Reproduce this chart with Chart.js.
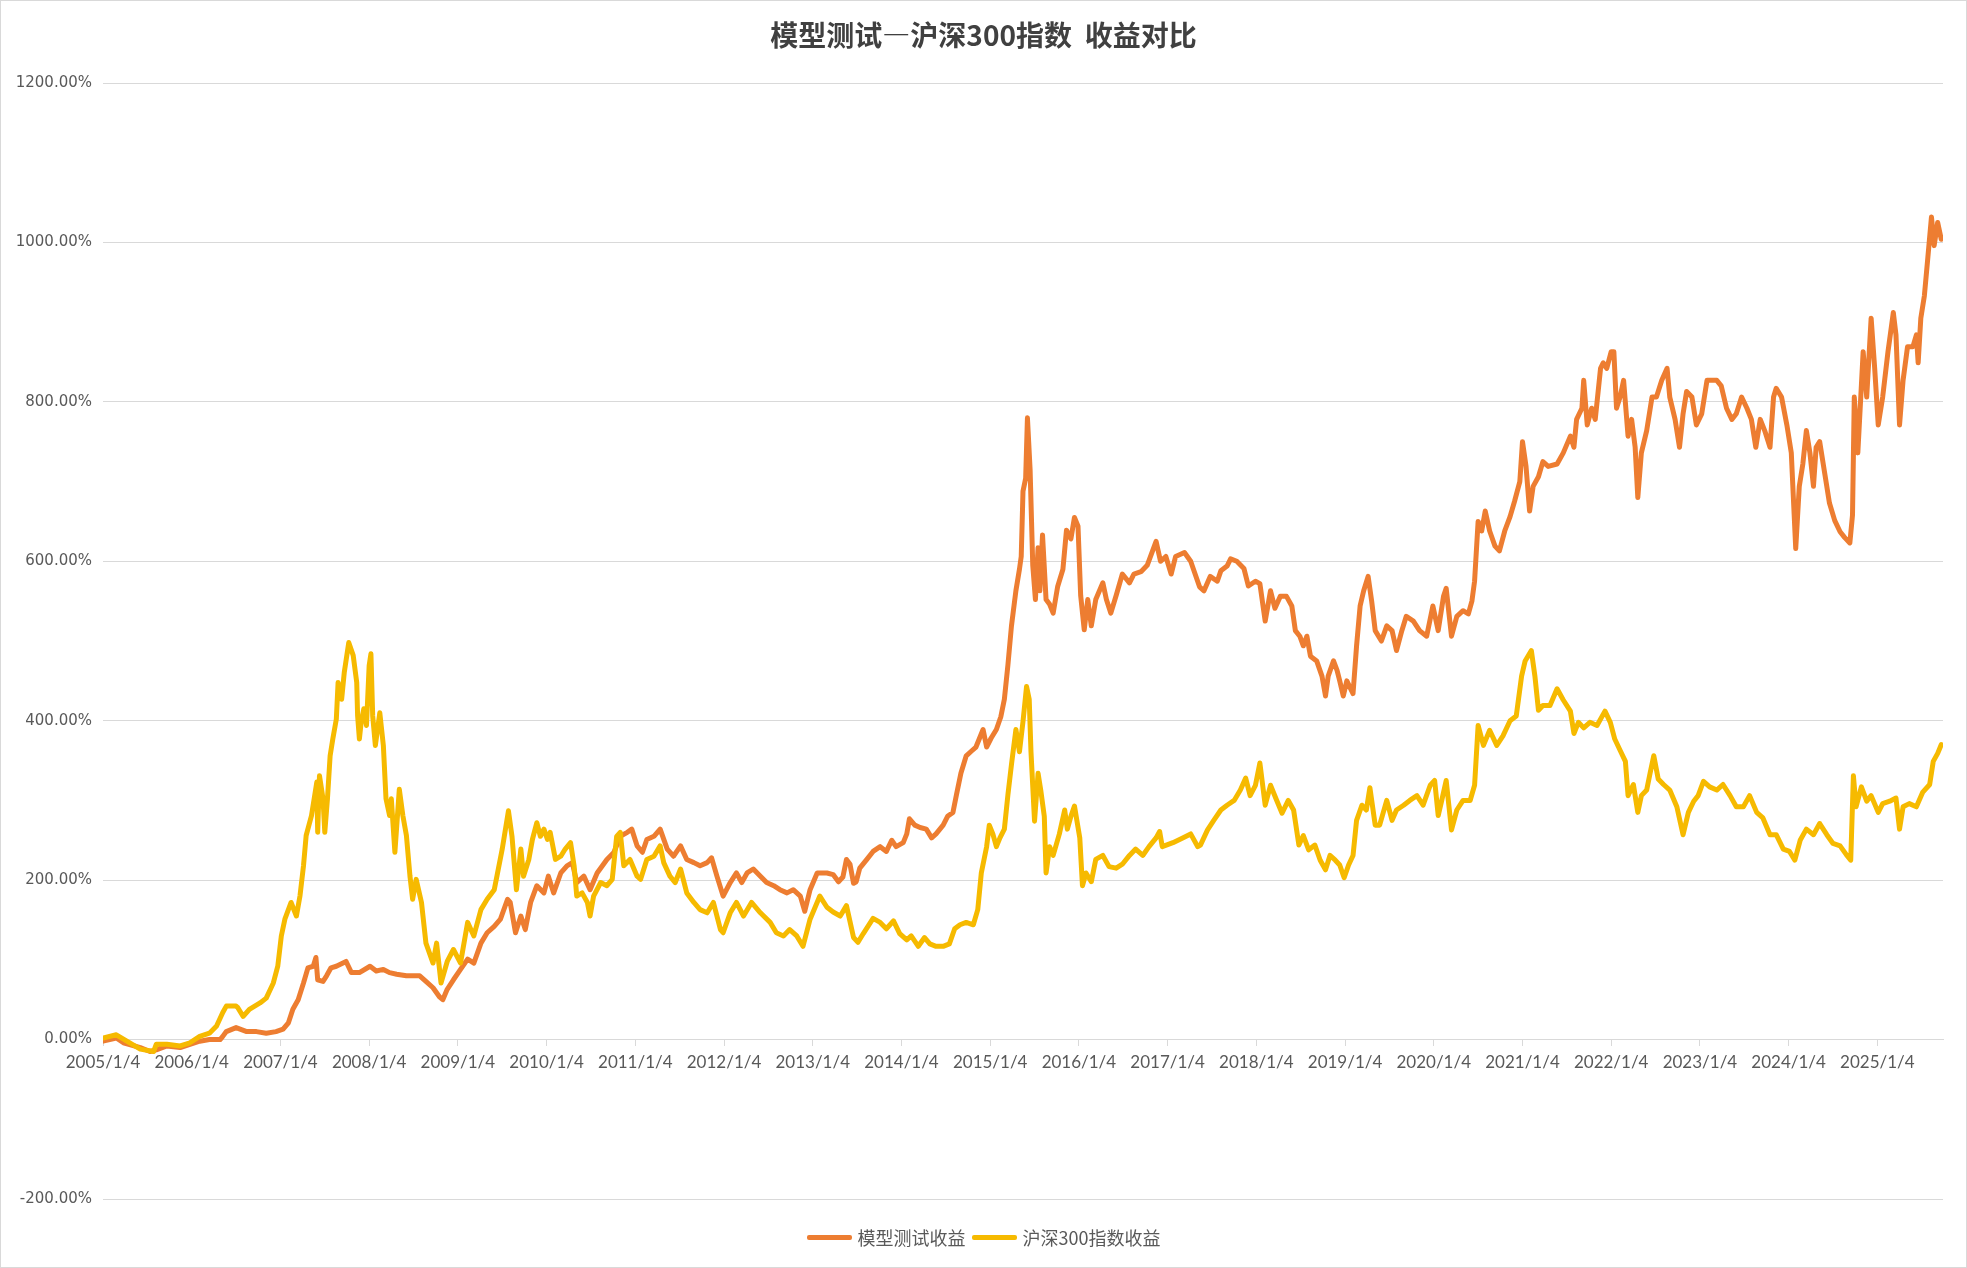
<!DOCTYPE html>
<html lang="zh-CN">
<head>
<meta charset="utf-8">
<title>模型测试—沪深300指数 收益对比</title>
<script src="https://cdn.jsdelivr.net/npm/chart.js@4.4.1/dist/chart.umd.min.js"></script>
<style>
  html, body { margin: 0; padding: 0; background: #fff; }
  #wrap { position: relative; width: 1967px; height: 1268px; overflow: hidden; }
  #frame { position: absolute; left: 0; top: 0; width: 1967px; height: 1268px; box-sizing: border-box; border: 1px solid #d9d9d9; pointer-events: none; }
  #title { position: absolute; left: 0; right: 0; top: 14px; text-align: center; font-family: "Noto Sans CJK SC", sans-serif; font-size: 28px; font-weight: bold; color: #404040; line-height: 40px; white-space: pre; }
  #legend { position: absolute; left: 0; right: 0; top: 1225px; display: flex; justify-content: center; align-items: center; font-family: "Noto Sans CJK SC", sans-serif; font-size: 18px; color: #595959; line-height: 24px; }
  .item { display: flex; align-items: center; margin: 0 3px; }
  .swatch { display: inline-block; width: 45px; height: 5px; border-radius: 2px; margin-right: 6px; }
</style>
</head>
<body>
<div id="wrap">
  <canvas id="chart" width="1967" height="1268"></canvas>
  <div id="title">模型测试—沪深300指数  收益对比</div>
  <div id="legend"></div>
  <div id="frame"></div>
</div>
<script>
// series names
const seriesNames = ['模型测试收益', '沪深300指数收益'];
const seriesColors = ['#ED7D31', '#F6BA00'];

// x ticks (one per year, first trading day)
const tickYears = [2005, 2006, 2007, 2008, 2009, 2010, 2011, 2012, 2013, 2014, 2015,
  2016, 2017, 2018, 2019, 2020, 2021, 2022, 2023, 2024, 2025];
const tickLabels = ['2005/1/4', '2006/1/4', '2007/1/4', '2008/1/4', '2009/1/4', '2010/1/4',
  '2011/1/4', '2012/1/4', '2013/1/4', '2014/1/4', '2015/1/4', '2016/1/4', '2017/1/4',
  '2018/1/4', '2019/1/4', '2020/1/4', '2021/1/4', '2022/1/4', '2023/1/4', '2024/1/4', '2025/1/4'];

// 模型测试收益 (%), dates as decimal years
const modelYears = [
  2005.00, 2005.15, 2005.23, 2005.42, 2005.53, 2005.60, 2005.72, 2005.87, 2005.98,
  2006.09, 2006.20, 2006.32, 2006.35, 2006.39, 2006.50, 2006.62, 2006.73, 2006.84, 2006.95,
  2007.03, 2007.09, 2007.14, 2007.20, 2007.26, 2007.31, 2007.37, 2007.40, 2007.42, 2007.48, 2007.52, 2007.57, 2007.63, 2007.74, 2007.80, 2007.89,
  2008.01, 2008.08, 2008.16, 2008.23, 2008.31, 2008.42, 2008.57, 2008.64, 2008.72, 2008.79, 2008.83, 2008.88, 2008.95,
  2009.03, 2009.11, 2009.18, 2009.26, 2009.33, 2009.41, 2009.48, 2009.56, 2009.59, 2009.65, 2009.71, 2009.76, 2009.82, 2009.89, 2009.97,
  2010.02, 2010.08, 2010.16, 2010.23, 2010.29, 2010.34, 2010.42, 2010.49, 2010.57, 2010.68, 2010.76, 2010.83, 2010.91, 2010.96,
  2011.02, 2011.08, 2011.13, 2011.21, 2011.28, 2011.36, 2011.43, 2011.51, 2011.58, 2011.66, 2011.73, 2011.81, 2011.86, 2011.92, 2011.99,
  2012.07, 2012.14, 2012.20, 2012.26, 2012.33, 2012.41, 2012.48, 2012.56, 2012.63, 2012.71, 2012.78, 2012.86, 2012.91, 2012.97,
  2013.05, 2013.16, 2013.23, 2013.29, 2013.34, 2013.38, 2013.42, 2013.46, 2013.49, 2013.53, 2013.61, 2013.68, 2013.76, 2013.83, 2013.89, 2013.94,
  2014.02, 2014.06, 2014.09, 2014.15, 2014.21, 2014.28, 2014.34, 2014.39, 2014.47, 2014.52, 2014.58, 2014.62, 2014.67, 2014.73, 2014.79, 2014.84, 2014.92, 2014.96,
  2015.01, 2015.07, 2015.12, 2015.16, 2015.20, 2015.24, 2015.29, 2015.33, 2015.35, 2015.37, 2015.40, 2015.42, 2015.45, 2015.48, 2015.51, 2015.54, 2015.56, 2015.59, 2015.63, 2015.67, 2015.71, 2015.76, 2015.82, 2015.86, 2015.91, 2015.95, 2015.99,
  2016.02, 2016.06, 2016.10, 2016.14, 2016.19, 2016.27, 2016.31, 2016.36, 2016.42, 2016.49, 2016.57, 2016.62, 2016.70, 2016.77, 2016.87, 2016.92, 2016.98,
  2017.04, 2017.09, 2017.19, 2017.26, 2017.36, 2017.41, 2017.48, 2017.56, 2017.60, 2017.67, 2017.71, 2017.78, 2017.86, 2017.91, 2017.99,
  2018.04, 2018.10, 2018.16, 2018.21, 2018.27, 2018.34, 2018.40, 2018.44, 2018.49, 2018.53, 2018.57, 2018.61, 2018.68, 2018.74, 2018.78, 2018.81, 2018.87, 2018.91, 2018.94, 2018.98,
  2019.02, 2019.09, 2019.13, 2019.17, 2019.21, 2019.26, 2019.30, 2019.34, 2019.41, 2019.47, 2019.53, 2019.58, 2019.64, 2019.69, 2019.77, 2019.84, 2019.92, 2019.99,
  2020.05, 2020.11, 2020.14, 2020.20, 2020.26, 2020.33, 2020.39, 2020.43, 2020.46, 2020.50, 2020.54, 2020.58, 2020.63, 2020.69, 2020.74, 2020.80, 2020.86, 2020.91, 2020.97,
  2021.00, 2021.04, 2021.08, 2021.12, 2021.18, 2021.23, 2021.29, 2021.39, 2021.46, 2021.54, 2021.58, 2021.61, 2021.67, 2021.69, 2021.73, 2021.78, 2021.82, 2021.88, 2021.91, 2021.95,
  2022.00, 2022.03, 2022.06, 2022.10, 2022.14, 2022.19, 2022.23, 2022.27, 2022.30, 2022.34, 2022.40, 2022.46, 2022.51, 2022.57, 2022.63, 2022.66, 2022.72, 2022.77, 2022.81, 2022.85, 2022.91, 2022.96,
  2023.02, 2023.08, 2023.13, 2023.19, 2023.24, 2023.30, 2023.36, 2023.41, 2023.47, 2023.53, 2023.58, 2023.63, 2023.68, 2023.73, 2023.79, 2023.83, 2023.86, 2023.92, 2023.98,
  2024.03, 2024.08, 2024.12, 2024.16, 2024.20, 2024.24, 2024.28, 2024.31, 2024.35, 2024.41, 2024.46, 2024.52, 2024.58, 2024.63, 2024.69, 2024.72, 2024.74, 2024.78, 2024.84, 2024.88, 2024.93, 2024.97,
  2025.01, 2025.06, 2025.12, 2025.18, 2025.21, 2025.25, 2025.29, 2025.34, 2025.40, 2025.44, 2025.46, 2025.49, 2025.53, 2025.57, 2025.61, 2025.64, 2025.68, 2025.72
];
const modelValues = [
  -2, 2, -4, -10, -15, -13, -8, -10, -6,
  -2, 0, 0, 4, 10, 15, 10, 10, 8, 10,
  13, 21, 38, 50, 71, 90, 92, 103, 75, 73, 80, 90, 92, 98, 84, 84,
  92, 86, 88, 84, 82, 80, 80, 73, 65, 54, 50, 63, 75,
  88, 101, 96, 121, 134, 142, 151, 176, 172, 134, 155, 138, 172, 193, 184,
  205, 184, 209, 218, 222, 197, 205, 188, 209, 226, 235, 255, 260, 264,
  243, 235, 251, 255, 264, 239, 230, 243, 226, 222, 218, 222, 228, 205, 180,
  197, 209, 197, 209, 214, 205, 197, 193, 188, 184, 188, 180, 161, 188,
  209, 209, 207, 198, 204, 226, 220, 196, 198, 215, 226, 236, 242, 236, 250, 242,
  247, 258, 277, 269, 266, 264, 253, 258, 269, 280, 285, 307, 334, 356, 362, 367, 389, 367,
  378, 389, 405, 427, 470, 519, 563, 590, 606, 688, 704, 780, 715, 595, 552, 617, 563, 633, 552, 546, 535, 568, 590, 639, 628, 655, 644,
  557, 514, 552, 519, 552, 573, 552, 535, 557, 584, 573, 584, 587, 595, 625, 600, 606,
  584, 606, 611, 600, 568, 563, 581, 575, 588, 594, 603, 600, 591, 569, 575,
  572, 525, 563, 541, 556, 556, 544, 513, 506, 494, 506, 481, 475, 456, 431, 456, 475, 463, 450, 431,
  450, 434, 494, 544, 563, 581, 550, 513, 500, 519, 513, 488, 513, 531, 525, 513, 506, 544,
  513, 556, 566, 506, 531, 538, 534, 550, 575, 650, 638, 663, 638, 619, 613, 638, 656, 675, 700,
  750, 719, 663, 694, 706, 725, 719, 722, 736, 757, 743, 778, 792, 827, 771, 792, 778, 842, 849, 842,
  863, 863, 792, 806, 827, 757, 778, 743, 680, 736, 764, 806, 806, 827, 842, 806, 778, 743, 785, 813, 806, 771,
  785, 827, 827, 827, 820, 792, 778, 785, 806, 792, 778, 743, 778, 764, 743, 806, 817, 806, 771,
  736, 616, 694, 722, 764, 736, 694, 743, 750, 708, 673, 651, 637, 630, 623, 658, 806, 736, 863, 806, 905, 842,
  771, 806, 863, 912, 884, 771, 827, 869, 869, 884, 849, 905, 933, 982, 1032, 996, 1025, 1004
];

// 沪深300指数收益 (%), dates as decimal years
const indexYears = [
  2005.00, 2005.15, 2005.42, 2005.57, 2005.60, 2005.72, 2005.87, 2005.98,
  2006.09, 2006.20, 2006.28, 2006.35, 2006.39, 2006.50, 2006.52, 2006.58, 2006.65, 2006.77, 2006.84, 2006.92, 2006.97,
  2007.01, 2007.05, 2007.12, 2007.18, 2007.22, 2007.26, 2007.29, 2007.35, 2007.41, 2007.42, 2007.44, 2007.48, 2007.50, 2007.53, 2007.56, 2007.59, 2007.63, 2007.65, 2007.69, 2007.72, 2007.77, 2007.82, 2007.86, 2007.87, 2007.89, 2007.91, 2007.94, 2007.97,
  2008.00, 2008.02, 2008.04, 2008.07, 2008.12, 2008.16, 2008.19, 2008.23, 2008.25, 2008.29, 2008.34, 2008.38, 2008.42, 2008.46, 2008.49, 2008.53, 2008.59, 2008.64, 2008.72, 2008.76, 2008.81, 2008.88, 2008.95,
  2009.03, 2009.11, 2009.18, 2009.26, 2009.33, 2009.41, 2009.44, 2009.50, 2009.57, 2009.61, 2009.66, 2009.71, 2009.74, 2009.80, 2009.84, 2009.89, 2009.93, 2009.97,
  2010.01, 2010.04, 2010.10, 2010.16, 2010.21, 2010.27, 2010.31, 2010.34, 2010.40, 2010.46, 2010.49, 2010.53, 2010.61, 2010.68, 2010.74, 2010.79, 2010.83, 2010.87, 2010.94,
  2011.02, 2011.06, 2011.13, 2011.21, 2011.28, 2011.32, 2011.39, 2011.45, 2011.51, 2011.58, 2011.66, 2011.73, 2011.81, 2011.88, 2011.96, 2011.99,
  2012.07, 2012.14, 2012.22, 2012.31, 2012.41, 2012.52, 2012.59, 2012.67, 2012.74, 2012.82, 2012.89, 2012.97,
  2013.08, 2013.16, 2013.23, 2013.31, 2013.38, 2013.46, 2013.51, 2013.57, 2013.68, 2013.76, 2013.83, 2013.91, 2013.98,
  2014.06, 2014.11, 2014.19, 2014.26, 2014.32, 2014.39, 2014.47, 2014.54, 2014.60, 2014.66, 2014.73, 2014.81, 2014.86, 2014.90, 2014.96, 2014.99,
  2015.03, 2015.07, 2015.11, 2015.16, 2015.20, 2015.24, 2015.29, 2015.33, 2015.37, 2015.41, 2015.44, 2015.46, 2015.50, 2015.54, 2015.57, 2015.61, 2015.63, 2015.67, 2015.71, 2015.78, 2015.84, 2015.87, 2015.91, 2015.95,
  2016.01, 2016.04, 2016.08, 2016.14, 2016.19, 2016.27, 2016.34, 2016.42, 2016.49, 2016.57, 2016.64, 2016.72, 2016.79, 2016.87, 2016.91, 2016.94,
  2017.06, 2017.17, 2017.26, 2017.34, 2017.37, 2017.45, 2017.52, 2017.60, 2017.67, 2017.75, 2017.82, 2017.88, 2017.93, 2017.99,
  2018.04, 2018.10, 2018.16, 2018.23, 2018.29, 2018.36, 2018.42, 2018.48, 2018.53, 2018.59, 2018.66, 2018.72, 2018.78, 2018.83, 2018.89, 2018.94, 2018.99,
  2019.04, 2019.09, 2019.13, 2019.19, 2019.24, 2019.28, 2019.34, 2019.39, 2019.47, 2019.53, 2019.58, 2019.66, 2019.73, 2019.81, 2019.88, 2019.96,
  2020.01, 2020.05, 2020.09, 2020.14, 2020.20, 2020.26, 2020.33, 2020.41, 2020.46, 2020.50, 2020.56, 2020.63, 2020.71, 2020.78, 2020.86, 2020.93, 2020.99,
  2021.03, 2021.10, 2021.14, 2021.18, 2021.23, 2021.31, 2021.39, 2021.46, 2021.54, 2021.58, 2021.63, 2021.69, 2021.76, 2021.84, 2021.93, 2021.99,
  2022.04, 2022.10, 2022.16, 2022.19, 2022.25, 2022.30, 2022.34, 2022.40, 2022.44, 2022.48, 2022.53, 2022.59, 2022.66, 2022.74, 2022.81, 2022.87, 2022.93, 2022.98,
  2023.04, 2023.11, 2023.19, 2023.26, 2023.34, 2023.41, 2023.49, 2023.56, 2023.64, 2023.71, 2023.79, 2023.86, 2023.94,
  2024.01, 2024.07, 2024.13, 2024.20, 2024.28, 2024.35, 2024.43, 2024.50, 2024.58, 2024.65, 2024.70, 2024.73, 2024.76, 2024.82, 2024.88, 2024.93,
  2025.01, 2025.06, 2025.14, 2025.21, 2025.25, 2025.29, 2025.36, 2025.44, 2025.51, 2025.59, 2025.63, 2025.68, 2025.72
];
const indexValues = [
  2, 6, -12, -15, -6, -6, -8, -4,
  4, 8, 17, 34, 42, 42, 40, 29, 38, 46, 52, 71, 92,
  130, 151, 172, 155, 180, 218, 256, 281, 323, 260, 331, 302, 260, 302, 356, 377, 402, 448, 427, 461, 498, 482, 448, 406, 377, 398, 415, 394,
  469, 484, 406, 369, 410, 369, 302, 281, 302, 235, 314, 281, 256, 205, 176, 201, 172, 121, 96, 121, 71, 98, 113,
  96, 147, 130, 163, 176, 188, 205, 239, 287, 255, 188, 239, 205, 226, 251, 272, 255, 264,
  251, 260, 226, 230, 239, 247, 218, 180, 184, 172, 155, 180, 197, 193, 201, 255, 260, 218, 226,
  205, 201, 226, 230, 243, 222, 205, 197, 214, 184, 172, 163, 159, 172, 138, 134,
  159, 172, 155, 172, 159, 147, 134, 130, 138, 130, 117, 151,
  180, 166, 160, 155, 168, 128, 122, 133, 152, 147, 139, 149, 133,
  125, 130, 117, 128, 120, 117, 117, 120, 139, 144, 147, 144, 163, 209, 242, 269,
  258, 242, 253, 264, 307, 345, 389, 361, 399, 443, 427, 361, 274, 334, 313, 280, 209, 242, 231, 258, 288, 264, 280, 293,
  253, 193, 209, 198, 226, 231, 217, 215, 220, 231, 239, 231, 242, 253, 261, 242,
  247, 253, 258, 242, 244, 263, 275, 288, 294, 300, 313, 328, 306, 319,
  347, 294, 319, 300, 284, 300, 288, 244, 256, 238, 244, 225, 213, 231, 225, 219, 203,
  219, 231, 275, 294, 288, 316, 269, 269, 300, 275, 288, 294, 300, 306, 294, 319,
  325, 281, 300, 325, 263, 288, 300, 300, 319, 394, 369, 388, 369, 381, 400, 406, 456,
  475, 488, 456, 413, 419, 419, 440, 426, 412, 384, 398, 391, 398, 394, 412, 398,
  377, 363, 349, 306, 320, 285, 306, 313, 335, 356, 327, 320, 313, 292, 257, 285, 299, 306,
  324, 317, 313, 320, 306, 292, 292, 306, 285, 278, 257, 257, 239,
  236, 225, 250, 264, 257, 271, 257, 246, 243, 232, 225, 331, 292, 317, 299, 306,
  285, 296, 299, 303, 264, 292, 296, 292, 310, 320, 349, 359, 370
];

(function(){
  const toPoints = (xs, ys) => xs.map((x, i) => ({ x: x, y: ys[i] }));

  // legend as plain text
  const legendEl = document.getElementById('legend');
  seriesNames.forEach((name, i) => {
    const item = document.createElement('span');
    item.className = 'item';
    const sw = document.createElement('span');
    sw.className = 'swatch';
    sw.style.background = seriesColors[i];
    item.appendChild(sw);
    item.appendChild(document.createTextNode(name));
    legendEl.appendChild(item);
  });

  const ctx = document.getElementById('chart').getContext('2d');
  new Chart(ctx, {
    type: 'line',
    data: {
      datasets: [
        { label: seriesNames[0], data: toPoints(modelYears, modelValues), borderColor: seriesColors[0],
          borderWidth: 5, pointRadius: 0, tension: 0, borderJoinStyle: 'round', borderCapStyle: 'round', order: 1 },
        { label: seriesNames[1], data: toPoints(indexYears, indexValues), borderColor: seriesColors[1],
          borderWidth: 5, pointRadius: 0, tension: 0, borderJoinStyle: 'round', borderCapStyle: 'round', order: 0 }
      ]
    },
    options: {
      responsive: false,
      animation: false,
      layout: { padding: { top: 83, bottom: 69, left: 0, right: 24 } },
      plugins: { legend: { display: false }, title: { display: false }, tooltip: { enabled: false } },
      scales: {
        x: {
          type: 'linear',
          min: 2005,
          max: 2025.74,
          position: { y: 0 },
          afterBuildTicks: axis => { axis.ticks = tickYears.map(v => ({ value: v })); },
          grid: { drawOnChartArea: false, drawTicks: true, tickLength: 6, color: '#d9d9d9' },
          border: { display: true, color: '#d9d9d9' },
          ticks: {
            autoSkip: false, maxRotation: 0, padding: 7, color: '#595959',
            font: { family: 'Lato', size: 17 },
            callback: (v, i) => tickLabels[i]
          }
        },
        y: {
          min: -200,
          max: 1200,
          afterFit: axis => { axis.width = 103; },
          grid: { color: '#d9d9d9', drawTicks: false },
          border: { display: false },
          ticks: {
            stepSize: 200, padding: 11, color: '#595959',
            font: { family: 'DejaVu Sans', size: 15 },
            callback: v => v.toFixed(2) + '%'
          }
        }
      }
    }
  });
})();
</script>
</body>
</html>
